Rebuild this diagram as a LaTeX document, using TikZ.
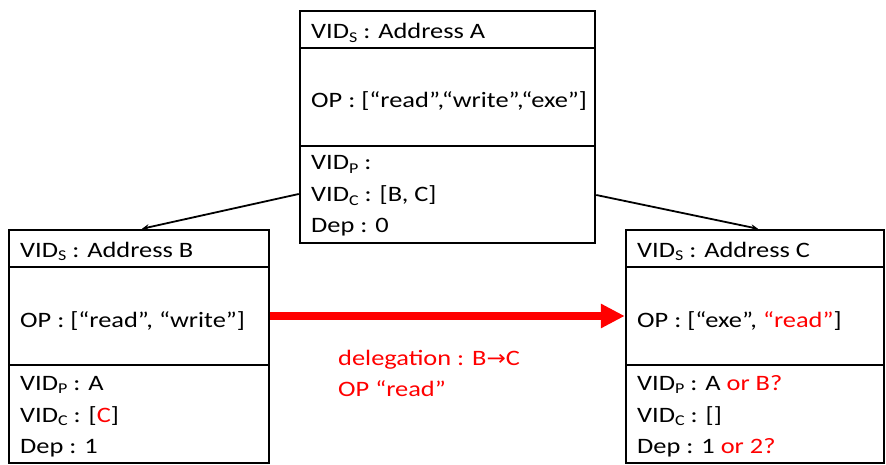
\documentclass[tikz,border=0pt]{standalone}
\usepackage{fontspec}
\setmainfont{Carlito}[FakeStretch=1.2]
\newfontfamily\djv{DejaVu Sans}[FakeStretch=1.1]
\usetikzlibrary{arrows.meta}
\newcommand{\sbs}[1]{\raisebox{-0.3ex}{\fontsize{15}{15}\selectfont #1}}
\begin{document}
\begin{tikzpicture}[x=1pt,y=-1pt,
  sect/.style={draw=black,line width=2.5pt,rectangle,inner sep=0pt,minimum width=#1},
  txt/.style={anchor=base west,inner sep=0pt,font=\fontsize{22}{26}\selectfont},
  rtxt/.style={txt,text=red},
  link/.style={line width=1.8pt,-{Stealth[length=7pt,width=6pt]}},
  deleg/.style={red,line width=8pt,-{Triangle[length=24pt,width=23pt]}}]
\useasboundingbox (0,0) rectangle (886,465);
% top box A
\node[sect=295pt,minimum height=37pt] (Ahead) at (447.5,29.5) {};
\node[sect=295pt,minimum height=98pt] (Aop) at (447.5,97) {};
\node[sect=295pt,minimum height=97pt] (Ainfo) at (447.5,194.5) {};
% left box B
\node[sect=260pt,minimum height=37pt] (Bhead) at (139,248.5) {};
\node[sect=260pt,minimum height=98pt] (Bop) at (139,316) {};
\node[sect=260pt,minimum height=98pt] (Binfo) at (139,414) {};
% right box C
\node[sect=258pt,minimum height=37pt] (Chead) at (755,248.5) {};
\node[sect=258pt,minimum height=98pt] (Cop) at (755,316) {};
\node[sect=258pt,minimum height=98pt] (Cinfo) at (755,414) {};
% texts A
\node[txt] (a1) at (311,39) {VID\sbs{S} : Address A};
\node[txt] (a2) at (311,108) {OP : [“read”,“write”,“exe”]};
\node[txt] (a3) at (311,170) {VID\sbs{P} :};
\node[txt] (a4) at (311,202) {VID\sbs{C} : [B, C]};
\node[txt] (a5) at (311,233) {Dep : 0};
% texts B
\node[txt] (b1) at (20,257) {VID\sbs{S} : Address B};
\node[txt] (b2) at (20,327) {OP : [“read”, “write”]};
\node[txt] (b3) at (20,390) {VID\sbs{P} : A};
\node[txt] (b4) at (20,422) {VID\sbs{C} : [\textcolor{red}{C}]};
\node[txt] (b5) at (20,453) {Dep : 1};
% texts C
\node[txt] (c1) at (637,257) {VID\sbs{S} : Address C};
\node[txt] (c2) at (637,327) {OP : [“exe”, \textcolor{red}{“read”}]};
\node[txt] (c3) at (637,390) {VID\sbs{P} : A \textcolor{red}{or B?}};
\node[txt] (c4) at (637,422) {VID\sbs{C} : []};
\node[txt] (c5) at (637,453) {Dep : 1 \textcolor{red}{or 2?}};
% delegation label
\node[rtxt] (d1) at (338,365) {delegation : B{\djv\fontsize{21}{21}\selectfont →}C};
\node[rtxt] (d2) at (338,396) {OP “read”};
% connectors
\draw[link] ([yshift=0.5pt]Ainfo.west) -- ([xshift=3pt]Bhead.north);
\draw[link] ([yshift=-0.5pt]Ainfo.east) -- ([xshift=3pt]Chead.north);
\draw[deleg] (Bop.east) -- (Cop.west);
\end{tikzpicture}
\end{document}
